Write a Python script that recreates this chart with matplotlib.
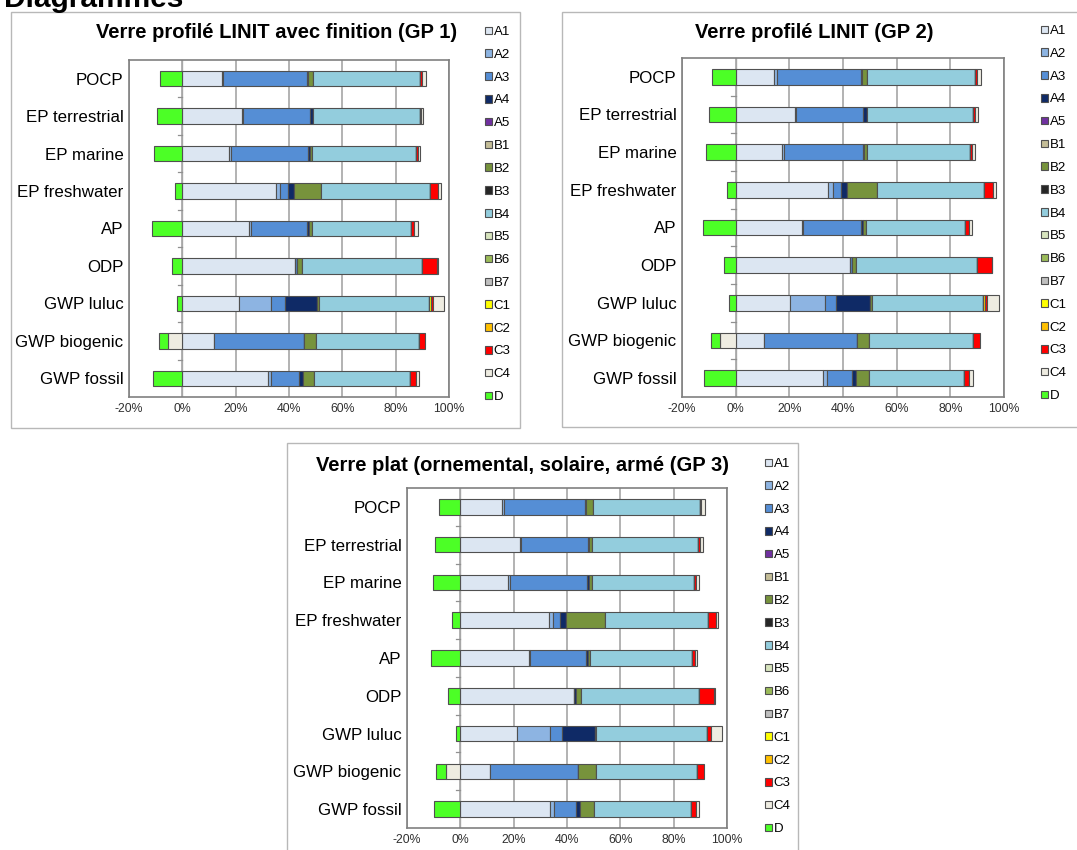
import matplotlib
matplotlib.use("Agg")
import matplotlib.pyplot as plt
from matplotlib.patches import Rectangle
import numpy as np

plt.rcParams['font.family'] = ['Liberation Sans', 'DejaVu Sans']

categories = ["POCP", "EP terrestrial", "EP marine", "EP freshwater", "AP",
              "ODP", "GWP luluc", "GWP biogenic", "GWP fossil"]
series = ["A1", "A2", "A3", "A4", "A5", "B1", "B2", "B3", "B4", "B5", "B6",
          "B7", "C1", "C2", "C3", "C4", "D"]
xticks = [-20, 0, 20, 40, 60, 80, 100]

titles = ["Verre profilé LINIT avec finition (GP 1)",
          "Verre profilé LINIT (GP 2)",
          "Verre plat (ornemental, solaire, armé (GP 3)"]

# GP 1 (percent of total)
gp1_A1 = [14.7, 22.2, 17.6, 35.1, 25.1, 42.4, 21.1, 11.9, 32.2]
gp1_A2 = [0.5, 0.6, 0.6, 1.5, 0.5, 0.0, 12.0, 0.0, 1.2]
gp1_A3 = [31.6, 25.2, 29.0, 3.2, 21.2, 0.7, 5.5, 33.7, 10.2]
gp1_A4 = [0.5, 1.0, 0.6, 2.1, 0.7, 0.0, 12.0, 0.0, 1.6]
gp1_B2 = [1.6, 0.0, 1.0, 10.2, 1.1, 1.7, 0.5, 4.5, 4.1]
gp1_B4 = [40.3, 40.0, 38.9, 40.8, 37.3, 45.1, 41.4, 38.5, 36.1]
gp1_C1 = [0.0, 0.0, 0.0, 0.0, 0.0, 0.0, 0.6, 0.0, 0.0]
gp1_C2 = [0.0, 0.0, 0.0, 0.0, 0.0, 0.0, 0.0, 0.0, 0.0]
gp1_C3 = [0.7, 0.5, 0.6, 2.9, 1.1, 5.6, 0.9, 2.5, 2.2]
gp1_C4 = [1.5, 0.9, 1.0, 1.2, 1.2, 0.3, 4.1, -5.5, 1.2]
gp1_D = [-8.4, -9.6, -10.5, -2.9, -11.5, -4.0, -2.1, -3.2, -11.0]

# GP 2
gp2_A1 = [14.4, 22.0, 17.4, 34.5, 24.6, 42.6, 20.2, 10.7, 32.4]
gp2_A2 = [0.9, 0.5, 0.6, 1.9, 0.6, 0.0, 13.0, 0.0, 1.7]
gp2_A3 = [31.4, 25.1, 29.3, 2.9, 21.6, 0.9, 4.3, 34.4, 9.1]
gp2_A4 = [0.4, 1.2, 0.6, 2.1, 0.5, 0.0, 12.4, 0.0, 1.5]
gp2_B2 = [1.7, 0.0, 0.9, 11.1, 1.1, 1.2, 0.9, 4.7, 5.0]
gp2_B4 = [40.4, 39.5, 38.5, 40.2, 37.1, 45.1, 41.4, 38.8, 35.5]
gp2_C1 = [0.0, 0.0, 0.0, 0.0, 0.0, 0.0, 0.0, 0.0, 0.0]
gp2_C2 = [0.0, 0.0, 0.0, 0.0, 0.0, 0.0, 0.6, 0.0, 0.0]
gp2_C3 = [0.6, 0.9, 0.7, 3.1, 1.4, 5.8, 1.0, 2.5, 1.9]
gp2_C4 = [1.5, 1.2, 1.1, 1.2, 1.1, 0.0, 4.2, -5.8, 1.5]
gp2_D = [-8.8, -9.8, -11.2, -3.2, -12.0, -4.2, -2.5, -3.4, -11.7]

# GP 3
gp3_A1 = [15.8, 22.2, 18.0, 33.2, 25.8, 42.5, 21.4, 11.0, 33.5]
gp3_A2 = [0.5, 0.5, 0.6, 1.7, 0.5, 0.0, 12.4, 0.0, 1.5]
gp3_A3 = [30.4, 25.1, 28.9, 2.6, 21.0, 0.0, 4.5, 33.1, 8.2]
gp3_A4 = [0.4, 0.6, 0.6, 2.1, 0.4, 0.7, 12.1, 0.0, 1.5]
gp3_B2 = [2.5, 0.9, 1.2, 14.7, 1.1, 1.9, 0.6, 6.9, 5.6]
gp3_B4 = [40.2, 39.8, 38.5, 38.6, 38.1, 44.4, 41.6, 37.8, 36.2]
gp3_C1 = [0.0, 0.0, 0.0, 0.0, 0.0, 0.0, 0.0, 0.0, 0.0]
gp3_C2 = [0.0, 0.0, 0.0, 0.0, 0.0, 0.0, 0.0, 0.0, 0.0]
gp3_C3 = [0.6, 0.6, 0.6, 2.9, 1.0, 5.5, 1.5, 2.5, 1.9]
gp3_C4 = [1.5, 1.2, 1.2, 1.0, 1.0, 0.4, 4.0, -5.3, 1.2]
gp3_D = [-8.1, -9.4, -10.2, -3.2, -11.0, -4.5, -1.8, -3.7, -10.0]

# modules that are zero everywhere in all three charts
zero = [0.0, 0.0, 0.0, 0.0, 0.0, 0.0, 0.0, 0.0, 0.0]

colors = {
    "A1": "#dce6f2", "A2": "#8db4e2", "A3": "#558ed5", "A4": "#0f2a66",
    "A5": "#7030a0", "B1": "#c4bd97", "B2": "#77933c", "B3": "#262626",
    "B4": "#93cddd", "B5": "#d7e4bd", "B6": "#9bbb59", "B7": "#bfbfbf",
    "C1": "#ffff00", "C2": "#ffc000", "C3": "#ff0000", "C4": "#eeece1",
    "D": "#4cff26",
}


def panel_data(p):
    g = globals()
    out = {}
    for s in series:
        out[s] = np.array(g.get(p + "_" + s, zero), dtype=float)
    return out


fig = plt.figure(figsize=(10.77, 8.5), dpi=100)
W, H = 1077.0, 850.0


def fx(px):
    return px / W


def fy(py):
    return 1 - py / H


# panel frames
for (l, t, r, b) in [(11, 12, 520, 428), (562, 12, 1090, 427), (287, 443, 798, 860)]:
    fig.add_artist(Rectangle((fx(l), fy(b)), fx(r - l), (b - t) / H,
                             transform=fig.transFigure, fill=False,
                             edgecolor="#b8b8b8", linewidth=1.0))

fig.text(fx(4), fy(7), "Diagrammes", fontsize=21.5, fontweight="bold",
         ha="left", va="baseline")

layouts = [
    # axes left, top, right, bottom (px), title x, title y, legend x, legend y
    ("gp1", (129, 60, 449, 397), (277, 33), (485, 26)),
    ("gp2", (682, 58, 1004, 397), (814, 32), (1041, 25)),
    ("gp3", (407, 488, 727, 828), (522, 465), (765, 458)),
]

y = np.arange(len(categories))

for (name, (l, t, r, b), (tx, ty), (lx, ly)), title in zip(layouts, titles):
    ax = fig.add_axes([fx(l), fy(b), fx(r - l), (b - t) / H])
    d = panel_data(name)
    pos = np.zeros(len(categories))
    neg = np.zeros(len(categories))
    handles = []
    for s in series:
        v = d[s]
        left = np.where(v >= 0, pos, neg)
        ax.barh(y, v, left=left, height=0.41, color=colors[s],
                edgecolor="#505050", linewidth=0.8, zorder=3)
        pos = pos + np.where(v > 0, v, 0)
        neg = neg + np.where(v < 0, v, 0)
        handles.append(Rectangle((0, 0), 1, 1, facecolor=colors[s],
                                 edgecolor="#505050", linewidth=0.8))
    ax.set_xlim(-20, 100)
    ax.set_ylim(len(categories) - 0.5, -0.5)
    ax.set_xticks(xticks)
    ax.set_xticklabels([f"{v}%" for v in xticks], fontsize=8.8, color="#303030")
    ax.set_yticks(y)
    ax.set_yticklabels(categories, fontsize=12.2)
    ax.tick_params(axis="both", length=0, pad=4)
    ax.tick_params(axis="y", pad=4)
    ax.grid(axis="x", color="#a6a6a6", linewidth=1.2, zorder=0)
    ax.axvline(0, color="#b0b0b0", linewidth=1.0, zorder=1)
    for yy in y[:-1] + 0.5:
        ax.plot([-1.6, 0], [yy, yy], color="#909090", linewidth=0.9, zorder=2)
    for sp in ax.spines.values():
        sp.set_color("#808080")
        sp.set_linewidth(1.2)
    fig.text(fx(tx), fy(ty), title, fontsize=14.5, fontweight="bold",
             ha="center", va="center")
    fig.legend(handles, series, loc="upper left",
               bbox_to_anchor=(fx(lx), fy(ly)), frameon=False, fontsize=9.5,
               handlelength=0.5, handleheight=0.5, handletextpad=0.15,
               labelspacing=0.82, borderpad=0, borderaxespad=0)

fig.savefig("out.png", dpi=100)
